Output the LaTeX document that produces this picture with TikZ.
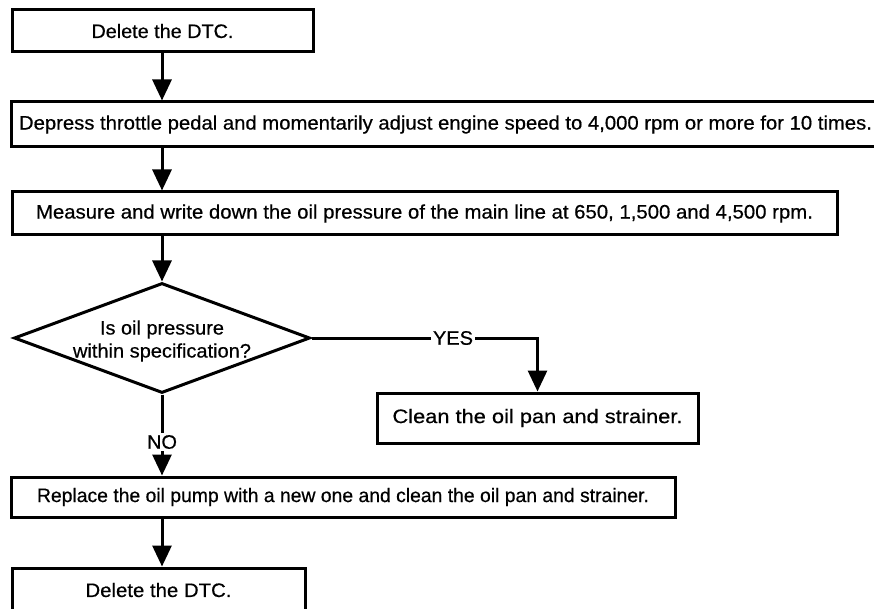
\documentclass[tikz,border=0pt]{standalone}
\usepackage{fontspec}
\setmainfont[FakeBold=0.5]{Liberation Sans}
\usetikzlibrary{shapes.geometric,arrows.meta,calc}
\newlength\mytw
\newcommand\fitto[2]{\settowidth\mytw{#2}\pgfmathsetmacro\myfx{#1/\mytw}\scalebox{\myfx}[1]{#2}}
\begin{document}
\begin{tikzpicture}[x=1pt,y=-1pt,
  box/.style={draw, line width=3pt, rectangle, inner sep=0pt},
  arr/.style={line width=3pt, -{Triangle[width=19pt,length=21pt]}},
  ln/.style={line width=3pt},
  every node/.style={font=\fontsize{19.5}{23}\selectfont}]
\useasboundingbox (0,0) rectangle (874,609);
\fill[white] (0,0) rectangle (874,609);
\coordinate (colx) at (162,0);
\node[box, minimum width=301pt, minimum height=42pt] (b1) at (162.5,31) {\fitto{142}{Delete the DTC.}};
\node[box, minimum width=869pt, minimum height=45pt] (b2) at (445.5,124.5) {\fitto{853}{Depress throttle pedal and momentarily adjust engine speed to 4,000 rpm or more for 10 times.}};
\node[box, minimum width=825pt, minimum height=43pt] (b3) at (424.5,213.5) {\fitto{777}{Measure and write down the oil pressure of the main line at 650, 1,500 and 4,500 rpm.}};
\node[draw, diamond, line width=3pt, minimum width=296pt, minimum height=110pt, inner sep=0pt, aspect=2.7] (dec) at (162,338) {};
\node[align=center, inner sep=0pt] (dect) at ([yshift=-3pt]dec.center) {\fitto{124}{Is oil pressure}\\\fitto{178}{within specification?}};
\node[inner sep=2pt] (yes) at (453,338) {\fitto{40}{YES}};
\node[box, minimum width=321pt, minimum height=50pt] (clean) at (537.5,418) {\fitto{290}{Clean the oil pan and strainer.}};
\node[inner sep=2pt] (no) at (162,442) {\fitto{30}{NO}};
\node[box, minimum width=664pt, minimum height=40pt] (b5) at (343,497) {\fitto{612}{Replace the oil pump with a new one and clean the oil pan and strainer.}};
\node[box, minimum width=293pt, minimum height=44pt] (b6) at (158.5,590) {\fitto{146}{Delete the DTC.}};
\draw[arr] (colx |- b1.south) -- (colx |- b2.north);
\draw[arr] (colx |- b2.south) -- (colx |- b3.north);
\draw[arr] (colx |- b3.south) -- (dec.north);
\draw[ln] (dec.east) -- (yes.west);
\draw[arr] (yes.east) -| (clean.north);
\draw[ln] (dec.south) -- (no.north);
\draw[arr] (no.south) -- (colx |- b5.north);
\draw[arr] (colx |- b5.south) -- (colx |- b6.north);
\end{tikzpicture}
\end{document}
